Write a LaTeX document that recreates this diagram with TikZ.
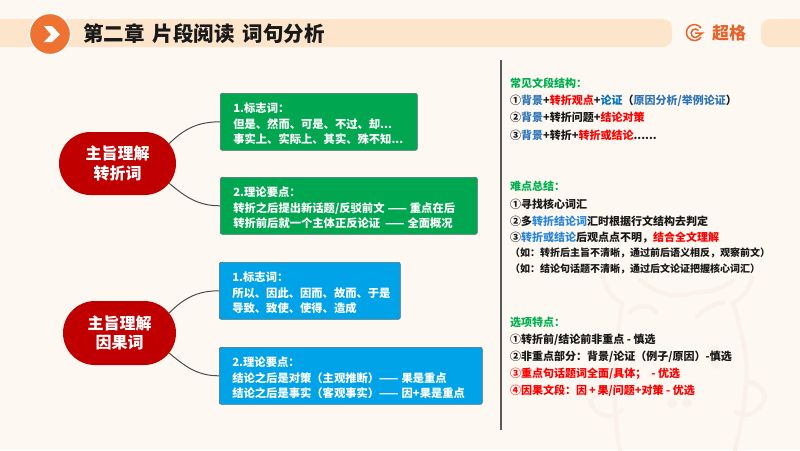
\documentclass[tikz,border=0pt]{standalone}
\usepackage{fontspec}
\setmainfont{Noto Sans CJK SC}
\usetikzlibrary{shapes.misc}
\definecolor{pagebg}{HTML}{FEF8F2}
\definecolor{bandc}{HTML}{FDE5CC}
\definecolor{orangec}{HTML}{EE7333}
\definecolor{logoc}{HTML}{E8632C}
\definecolor{redc}{HTML}{C00000}
\definecolor{greenc}{HTML}{00A650}
\definecolor{bluec}{HTML}{00A2E8}
\definecolor{edgec}{HTML}{4F6F78}
\definecolor{headc}{HTML}{00B050}
\definecolor{bgblue}{HTML}{2E75B6}
\definecolor{dkblue}{HTML}{0070C0}
\definecolor{mdblue}{HTML}{2A86D8}
\definecolor{pigc}{HTML}{FAF2EA}
\def\bb#1{\textcolor{bgblue}{#1}}
\def\db#1{\textcolor{dkblue}{#1}}
\def\mb#1{\textcolor{mdblue}{#1}}
\def\rr#1{\textcolor{red}{#1}}
\tikzset{
	topic/.style={rounded rectangle, fill=redc, text=white, font=\fontsize{16}{19.5}\selectfont\bfseries, align=center, inner sep=0pt, execute at begin node=\rule{0pt}{19pt}},
	card/.style={draw=edgec, line width=0.6pt, rounded corners=2pt, anchor=north west, text=white, font=\fontsize{11.3}{15.5}\selectfont\bfseries, align=left, inner xsep=13pt, inner ysep=0pt, execute at begin node=\rule{0pt}{14pt}},
	line/.style={anchor=west, inner sep=0pt, font=\fontsize{11}{13}\selectfont\bfseries, text=black!90},
	small/.style={line, font=\fontsize{10}{12}\selectfont\bfseries},
	head/.style={line, text=headc},
	link/.style={line width=1pt, color=black!70},
	pig/.style={line width=4.5pt, color=pigc, line cap=round, line join=round}
}

\begin{document}
\begin{tikzpicture}[x=1pt,y=-1pt]
		%%%%% START %%%%%
		\useasboundingbox (0, 0) rectangle (800, 450);
		\fill[pagebg] (0, 0) rectangle (800, 450);
		
		% watermark
		\draw[pig] (603, 277) .. controls (606, 290) and (612, 298) .. (622, 303) .. controls (618, 330) and (616, 355) .. (615, 377) .. controls (614, 400) and (616, 430) .. (620, 450);
		\draw[pig] (752, 277) .. controls (750, 290) and (742, 298) .. (733, 303) .. controls (740, 325) and (746, 350) .. (747, 370) .. controls (746, 400) and (740, 430) .. (735, 450);
		\draw[pig] (640, 280) .. controls (655, 295) and (680, 298) .. (693, 293) .. controls (710, 292) and (725, 288) .. (733, 280);
		\draw[pig] (630, 312) .. controls (640, 303) and (650, 305) .. (656, 312);
		\draw[pig] (697, 317) .. controls (705, 308) and (715, 303) .. (723, 303);
		\draw[pig] (615, 385) .. controls (600, 392) and (592, 396) .. (590, 402) .. controls (598, 420) and (615, 418) .. (622, 410);
		\draw[pig] (747, 382) .. controls (758, 382) and (764, 390) .. (765, 398) .. controls (758, 415) and (745, 418) .. (736, 412);
		\fill[pigc] (672, 403) circle (5);
		\fill[pigc] (687, 403) circle (5);
		\fill[pigc] (633, 355) ellipse (4 and 9);
		\fill[pigc] (715, 357) ellipse (6 and 12);
		
		% header
		\fill[bandc, rounded corners=9pt] (-20, 19) rectangle (672, 47);
		\fill[bandc, rounded corners=9pt] (761, 19) rectangle (820, 47);
		\node[circle, fill=orangec, draw=white, line width=1.2pt, minimum size=41pt, inner sep=0pt] (arrow) at (50, 34) {};
		\fill[white] (44, 26) -- (52, 26) -- (60, 34.5) -- (52, 42) -- (44, 42) -- (51, 34.5) -- cycle;
		\node[anchor=west, inner sep=0pt, font=\fontsize{20.5}{24}\selectfont\bfseries, text=black!90] (title) at (83, 34) {第二章\hspace{8pt}片段阅读\hspace{8pt}词句分析};
		
		% logo
		\draw[logoc, line width=1.5pt] (701, 28) arc (-35:-325:8);
		\draw[logoc, line width=1.5pt] (698.5, 30.5) arc (-40:-320:4.2) -- (702.5, 33) -- (695, 33);
		\node[anchor=west, inner sep=0pt, font=\fontsize{17}{20}\selectfont\bfseries, text=logoc] (logo) at (712, 33) {超格};
		
		% left side
		\node[topic, minimum width=117pt, minimum height=63pt] (turn) at (117.5, 163.5) {主旨理解\\转折词};
		\node[card, fill=greenc, minimum width=197pt, minimum height=57pt, text width=171pt] (turnA) at (220, 93) {1.标志词：\\但是、然而、可是、不过、却...\\事实上、实际上、其实、殊不知...};
		\node[card, fill=greenc, minimum width=257pt, minimum height=57pt, text width=231pt] (turnB) at (220, 177) {2.理论要点：\\转折之后提出新话题/反驳前文\hspace{3pt}——\hspace{3pt}重点在后\\转折前后就一个主体正反论证\hspace{5pt}——\hspace{3pt}全面概况};
		\draw[link] (turn.21) to[out=45, in=180] (turnA.west);
		\draw[link] (turn.-21) to[out=-40, in=180] (turnB.west);
		
		\node[topic, minimum width=113pt, minimum height=64pt] (cause) at (119.5, 333) {主旨理解\\因果词};
		\node[card, fill=bluec, minimum width=181pt, minimum height=57pt, text width=155pt] (causeA) at (219, 262) {1.标志词：\\所以、因此、因而、故而、于是\\导致、致使、使得、造成};
		\node[card, fill=bluec, minimum width=263pt, minimum height=57pt, text width=237pt] (causeB) at (219, 347) {2.理论要点：\\结论之后是对策（主观推断）——\hspace{3pt}果是重点\\结论之后是事实（客观事实）——\hspace{3pt}因+果是重点};
		\draw[link] (cause.22) to[out=45, in=180] (causeA.west);
		\draw[link] (cause.-22) to[out=-40, in=180] (causeB.west);
		
		\draw[line width=2pt, color=black!65] (501, 60) -- (501, 430);
		
		% right side
		\node[head] (partA) at (510, 83) {常见文段结构：};
		\node[line] (partA1) at (510, 100.5) {①\bb{背景}+\rr{转折观点}+\db{论证}（\bb{原因分析/举例论证}）};
		\node[line] (partA2) at (510, 117.5) {②\bb{背景}+转折问题+\rr{结论对策}};
		\node[line] (partA3) at (510, 135) {③\bb{背景}+转折+\rr{转折或结论}......};
		
		\node[head] (partB) at (510, 186) {难点总结：};
		\node[line] (partB1) at (510, 204) {①寻找核心词汇};
		\node[line] (partB2) at (510, 221) {②多\mb{转折结论词}汇时根据行文结构去判定};
		\node[line] (partB3) at (510, 237.5) {③\mb{转折或结论}后观点点不明，\rr{结合全文理解}};
		\node[small] (partB4) at (510, 253) {（如：转折后主旨不清晰，通过前后语义相反，观察前文）};
		\node[small] (partB5) at (510, 269) {（如：结论句话题不清晰，通过后文论证把握核心词汇）};
		
		\node[head] (partC) at (510, 322) {选项特点：};
		\node[line] (partC1) at (510, 339.5) {①转折前/结论前非重点 - 慎选};
		\node[line] (partC2) at (510, 356.5) {②非重点部分：背景/论证（例子/原因）-慎选};
		\node[line] (partC3) at (510, 373.5) {\rr{③重点句话题词全面/具体；\hspace{5pt}- 优选}};
		\node[line] (partC4) at (510, 390.5) {\rr{④因果文段：因\,+\,果/问题+对策 - 优选}};
		
		%%%%% END %%%%%
	\end{tikzpicture}
\end{document}
